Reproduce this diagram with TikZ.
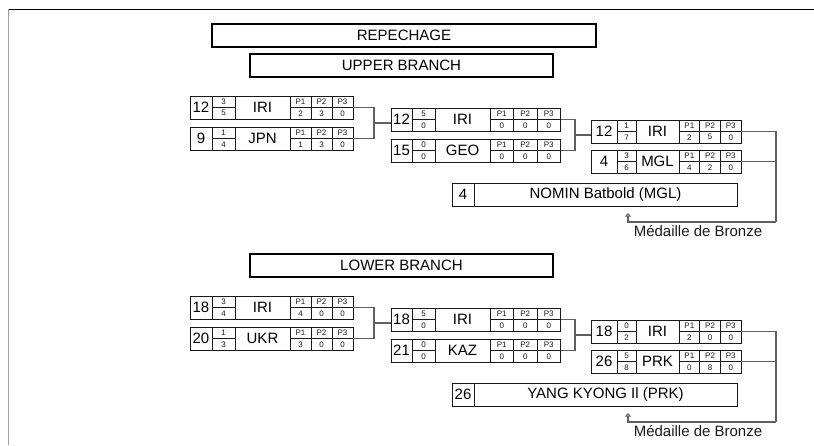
\documentclass[tikz,border=0pt]{standalone}
\usepackage{fontspec}
\setmainfont{Liberation Sans}
\usetikzlibrary{arrows.meta,positioning,calc}
\definecolor{rpInk}  {RGB}{ 25, 25, 25}
\definecolor{rpLine} {RGB}{ 95, 95, 95}
\definecolor{rpFrame}{RGB}{160,160,160}
\newcommand{\bigf}{\fontsize{15}{15}\selectfont}
\newcommand{\tinyf}{\fontsize{8}{8}\selectfont}
% one fighter row: name, x, y, seed, won, lost, nation, points
\newcommand{\fighter}[8]{%
  \node[cell,minimum width=\wS] (#1s) at (#2,#3) {\bigf #4};
  \node[cell,minimum width=\wF] (#1f) at (#1s.north east) {};
  \draw[cellrule] (#1f.west) -- (#1f.east);
  \node[mini] at ($(#1f.north)!.5!(#1f.center)$) {#5};
  \node[mini] at ($(#1f.south)!.5!(#1f.center)$) {#6};
  \node[cell,minimum width=\wN] (#1n) at (#1f.north east) {\bigf #7};
  \foreach \v [count=\i] in {#8} {
    \node[cell,minimum width=\wP] (#1p\i) at ([xshift={(\i-1)*\wP}] #1n.north east) {};
    \draw[cellrule] (#1p\i.west) -- (#1p\i.east);
    \node[mini] at ($(#1p\i.north)!.5!(#1p\i.center)$) {P\i};
    \node[mini] at ($(#1p\i.south)!.5!(#1p\i.center)$) {\v};
  }%
}
\begin{document}
\begin{tikzpicture}[
  x=1pt,y=-1pt,
  cell/.style={rectangle,draw=rpInk,line width=0.7pt,inner sep=0pt,outer sep=0pt,
               minimum height=23pt,anchor=north west},
  cellrule/.style={draw=rpInk,line width=0.7pt},
  mini/.style={font=\tinyf,inner sep=0pt,anchor=center,text=rpInk},
  title/.style={rectangle,draw=black,line width=1.6pt,inner sep=0pt,outer sep=0pt,
                minimum height=23pt,anchor=north west,font=\bigf},
  bracket/.style={draw=rpLine,line width=1.2pt},
  medal/.style={font=\bigf,inner sep=0pt,text=rpInk}
]
\useasboundingbox (0,0) rectangle (814,445);
\draw[black,line width=1pt] (8,9) -- (814,9);
\draw[rpFrame,line width=1pt] (8,9) -- (8,445);

% --- Titles
\node[title,minimum width=384pt] (rep) at (212,24) {REPECHAGE};
\node[title,minimum width=303pt] (up) at (250,54) {UPPER BRANCH};
\node[title,minimum width=303pt] (low) at (250,254) {LOWER BRANCH};

% --- Upper branch, round 1
\def\wS{22pt}\def\wF{23pt}\def\wN{55pt}\def\wP{21pt}
\fighter{ua1}{190}{96}{12}{3}{5}{IRI}{2,3,0}
\fighter{ub1}{190}{127}{9}{1}{4}{JPN}{1,3,0}
% --- Upper branch, round 2
\def\wS{21pt}\def\wF{23pt}\def\wN{55pt}\def\wP{23.5pt}
\fighter{ua2}{391}{108}{12}{5}{0}{IRI}{0,0,0}
\fighter{ub2}{391}{139}{15}{0}{0}{GEO}{0,0,0}
% --- Upper branch, round 3
\def\wS{26pt}\def\wF{19pt}\def\wN{43pt}\def\wP{20.7pt}
\fighter{ua3}{591}{120}{12}{1}{7}{IRI}{2,5,0}
\fighter{ub3}{591}{150}{4}{3}{6}{MGL}{4,2,0}
% --- Upper bronze
\node[cell,minimum width=22pt] (uws) at (452,183) {\bigf 4};
\node[cell,minimum width=263pt] (uwn) at (uws.north east) {\bigf NOMIN Batbold (MGL)};
\node[medal] (ubz) at (698,231) {Médaille de Bronze};

% --- Lower branch, round 1
\def\wS{22pt}\def\wF{23pt}\def\wN{55pt}\def\wP{21pt}
\fighter{la1}{190}{296}{18}{3}{4}{IRI}{4,0,0}
\fighter{lb1}{190}{327}{20}{1}{3}{UKR}{3,0,0}
% --- Lower branch, round 2
\def\wS{21pt}\def\wF{23pt}\def\wN{55pt}\def\wP{23.5pt}
\fighter{la2}{391}{308}{18}{5}{0}{IRI}{0,0,0}
\fighter{lb2}{391}{339}{21}{0}{0}{KAZ}{0,0,0}
% --- Lower branch, round 3
\def\wS{26pt}\def\wF{19pt}\def\wN{43pt}\def\wP{20.7pt}
\fighter{la3}{591}{320}{18}{0}{2}{IRI}{2,0,0}
\fighter{lb3}{591}{350}{26}{5}{8}{PRK}{0,8,0}
% --- Lower bronze
\node[cell,minimum width=22pt] (lws) at (452,383) {\bigf 26};
\node[cell,minimum width=263pt] (lwn) at (lws.north east) {\bigf YANG KYONG Il (PRK)};
\node[medal] (lbz) at (698,431) {Médaille de Bronze};

% --- Brackets
\coordinate (uk1) at (374,0);
\coordinate (uk2) at (575,0);
\coordinate (uk3) at (776,0);
\coordinate (ukb) at (776,222);
\coordinate (uar) at (628,213);
\coordinate (lk1) at (374,0);
\coordinate (lk2) at (575,0);
\coordinate (lk3) at (776,0);
\coordinate (lkb) at (776,422);
\coordinate (lar) at (628,413);

\draw[bracket] (ua1p3.east) -- (ua1p3.east -| uk1) -- (ub1p3.east -| uk1) -- (ub1p3.east);
\coordinate (um1) at ($(ua1p3.east -| uk1)!.5!(ub1p3.east -| uk1)$);
\draw[bracket] (um1) -- (um1 -| ua2s.west);
\draw[bracket] (ua2p3.east) -- (ua2p3.east -| uk2) -- (ub2p3.east -| uk2) -- (ub2p3.east);
\coordinate (um2) at ($(ua2p3.east -| uk2)!.5!(ub2p3.east -| uk2)$);
\draw[bracket] (um2) -- (um2 -| ua3s.west);
\draw[bracket] (ua3p3.east) -- (ua3p3.east -| uk3) -- (ukb);
\draw[bracket] (ub3p3.east) -- (ub3p3.east -| uk3);
\draw[bracket,-{Triangle[open,length=3.5pt,width=6pt]}] (ukb) -| (uar);

\draw[bracket] (la1p3.east) -- (la1p3.east -| lk1) -- (lb1p3.east -| lk1) -- (lb1p3.east);
\coordinate (lm1) at ($(la1p3.east -| lk1)!.5!(lb1p3.east -| lk1)$);
\draw[bracket] (lm1) -- (lm1 -| la2s.west);
\draw[bracket] (la2p3.east) -- (la2p3.east -| lk2) -- (lb2p3.east -| lk2) -- (lb2p3.east);
\coordinate (lm2) at ($(la2p3.east -| lk2)!.5!(lb2p3.east -| lk2)$);
\draw[bracket] (lm2) -- (lm2 -| la3s.west);
\draw[bracket] (la3p3.east) -- (la3p3.east -| lk3) -- (lkb);
\draw[bracket] (lb3p3.east) -- (lb3p3.east -| lk3);
\draw[bracket,-{Triangle[open,length=3.5pt,width=6pt]}] (lkb) -| (lar);
\end{tikzpicture}
\end{document}
